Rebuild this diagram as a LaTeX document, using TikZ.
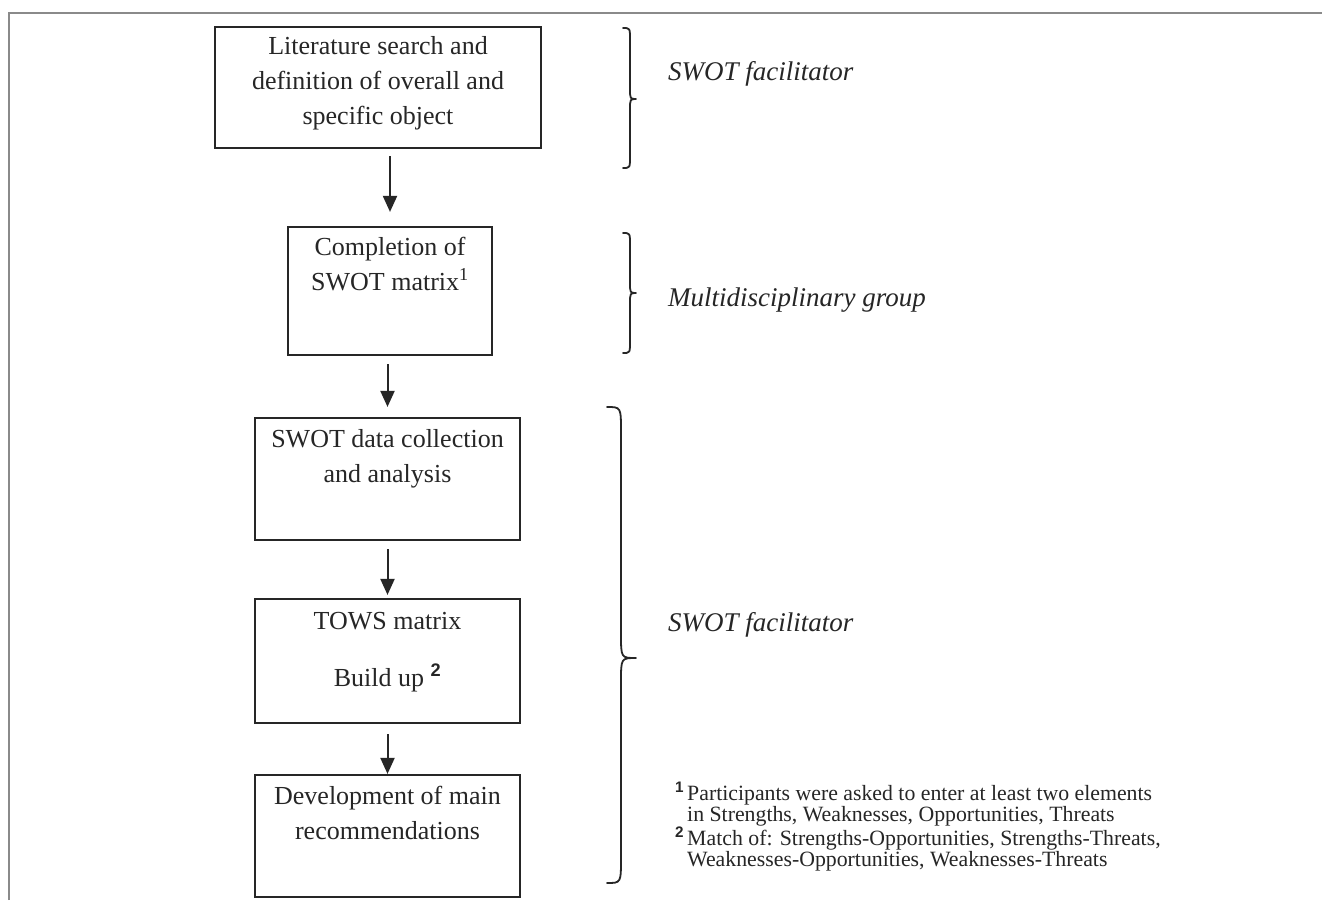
\documentclass[tikz,border=0pt]{standalone}
\usepackage{fontspec}
\setmainfont{Liberation Serif}
\newfontfamily\sansf{Liberation Sans}
\usetikzlibrary{arrows.meta}
\newcommand\supmark[1]{\textsuperscript{\sansf\bfseries #1}}
\definecolor{ink}{HTML}{262626}
\definecolor{framec}{HTML}{8A8A8A}
\begin{document}
\begin{tikzpicture}[x=1pt,y=-1pt,
  box/.style={draw=ink, line width=2.2pt, rectangle, inner sep=0pt, text=ink,
              font=\fontsize{26}{35}\selectfont},
  arr/.style={draw=ink, line width=2pt, -{Triangle[width=14pt,length=16pt]}},
  brc/.style={draw=ink, line width=1.8pt, line cap=round, line join=round},
  role/.style={anchor=base west, inner sep=0pt, text=ink,
               font=\fontsize{27}{32}\selectfont\itshape},
  fn/.style={anchor=base west, inner sep=0pt, text=ink, align=left,
             font=\fontsize{21.8}{19.5}\selectfont}
]
\useasboundingbox[fill=white] (0,0) rectangle (1322,900);
% frame lines
\draw[framec, line width=2pt] (9,900) -- (9,13) -- (1322,13);

% boxes
\node[box] (b1) at (378,87.5) {\parbox[c][121pt][t]{326pt}{\centering\rule{0pt}{27pt}Literature search and\\definition of overall and\\specific object}};
\node[box] (b2) at (390,291) {\parbox[c][128pt][t]{204pt}{\centering\rule{0pt}{28pt}Completion of\\SWOT matrix\textsuperscript{1}}};
\node[box] (b3) at (387.5,479) {\parbox[c][122pt][t]{265pt}{\centering\rule{0pt}{29pt}SWOT data collection\\and analysis}};
\node[box] (b4) at (387.5,661) {\parbox[c][124pt][t]{265pt}{\centering\rule{0pt}{30pt}TOWS matrix\\[22pt]Build up \supmark{2}}};
\node[box] (b5) at (387.5,836) {\parbox[c][122pt][t]{265pt}{\centering\rule{0pt}{29pt}Development of main\\recommendations}};

% arrows
\draw[arr, shorten <=7pt, shorten >=14pt] (b2.north |- b1.south) -- (b2.north);
\draw[arr, shorten <=8pt, shorten >=10pt] (b3.north |- b2.south) -- (b3.north);
\draw[arr, shorten <=8pt, shorten >=3pt] (b3.south) -- (b4.north);
\draw[arr, shorten <=10pt, shorten >=0pt] (b4.south) -- (b5.north);

% braces
\draw[brc] (623,28) .. controls (630,28) .. (630,40) -- (630,88)
  .. controls (630,99) .. (636,99) .. controls (630,99) .. (630,110) -- (630,156)
  .. controls (630,168) .. (623,168);
\draw[brc] (623,233) .. controls (630,233) .. (630,245) -- (630,282)
  .. controls (630,293) .. (636,293) .. controls (630,293) .. (630,304) -- (630,341)
  .. controls (630,353) .. (623,353);
\draw[brc] (607,407) .. controls (621,407) .. (621,432) -- (621,634)
  .. controls (621,658) .. (636,658) .. controls (621,658) .. (621,682) -- (621,858)
  .. controls (621,883) .. (607,883);

% role labels
\node[role] (r1) at (668,80) {SWOT facilitator};
\node[role] (r2) at (668,306) {Multidisciplinary group};
\node[role] (r3) at (668,631) {SWOT facilitator};

% footnotes (base anchor = baseline of the last line)
\node[fn] (f1) at (675,821) {\makebox[12pt][l]{\supmark{1}}Participants were asked to enter at least two elements\\\hspace*{12pt}in Strengths, Weaknesses, Opportunities, Threats};
\node[fn] (f2) at (675,866) {\makebox[12pt][l]{\supmark{2}}Match of: Strengths-Opportunities, Strengths-Threats,\\\hspace*{12pt}Weaknesses-Opportunities, Weaknesses-Threats};
\end{tikzpicture}
\end{document}
